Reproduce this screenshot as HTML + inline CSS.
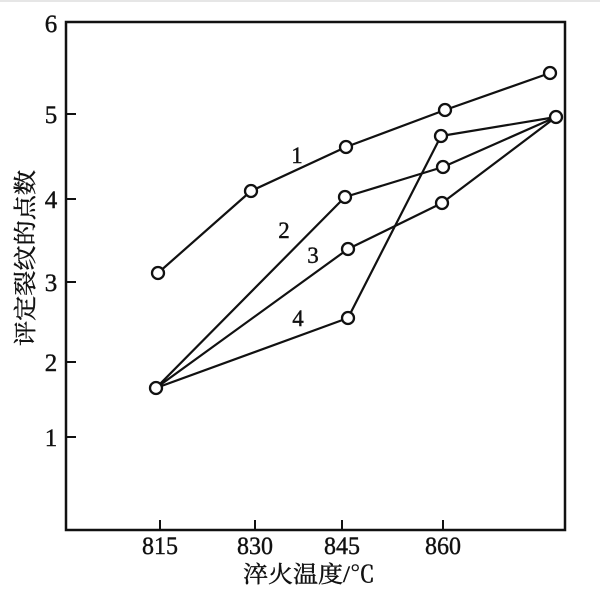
<!DOCTYPE html>
<html><head><meta charset="utf-8"><style>
html,body{margin:0;padding:0;background:#fff;}
svg{display:block;}
text{font-family:"Liberation Serif","Noto Serif CJK SC",serif;fill:#111;stroke:#111;stroke-width:0.4;}
</style></head><body>
<svg width="600" height="596" viewBox="0 0 600 596" xmlns="http://www.w3.org/2000/svg">
<rect x="0" y="0" width="600" height="596" fill="#fff"/>
<rect x="0" y="0" width="600" height="2" fill="#e6e6e6"/>
<!-- axes frame -->
<g stroke="#111" fill="none">
<path d="M66,22 L565,22 L565,530 L66,530 Z" stroke-width="2.5"/>
<path d="M66,114 H76 M66,199 H76 M66,282 H76 M66,362 H76 M66,437 H76" stroke-width="2"/>
<path d="M160,530 V520 M255,530 V520 M342,530 V520 M443,530 V520" stroke-width="2"/>
</g>
<!-- y labels -->
<g font-size="25" text-anchor="middle">
<text x="51" y="32">6</text>
<text x="51" y="123">5</text>
<text x="51" y="208">4</text>
<text x="51" y="291">3</text>
<text x="51" y="371">2</text>
<text x="51" y="446">1</text>
</g>
<!-- x labels -->
<g font-size="25" text-anchor="middle">
<text x="160" y="554" textLength="36" lengthAdjust="spacingAndGlyphs">815</text>
<text x="255" y="554" textLength="36" lengthAdjust="spacingAndGlyphs">830</text>
<text x="342" y="554" textLength="36" lengthAdjust="spacingAndGlyphs">845</text>
<text x="443" y="554" textLength="36" lengthAdjust="spacingAndGlyphs">860</text>
</g>
<text x="243" y="582" font-size="23" textLength="132" lengthAdjust="spacingAndGlyphs">淬火温度/℃</text>
<text transform="translate(33,258) rotate(-90)" font-size="23" text-anchor="middle" textLength="176" lengthAdjust="spacingAndGlyphs">评定裂纹的点数</text>
<!-- series -->
<g stroke="#111" stroke-width="2.2" fill="none" stroke-linejoin="round">
<polyline points="158,273 251,191 346,147 445,110 550,73"/>
<polyline points="156,388 345,197 443,167 556,117"/>
<polyline points="156,388 348,249 442,203 556,117"/>
<polyline points="156,388 348,318 441,136 556,117"/>
</g>
<g stroke="#111" stroke-width="2.3" fill="#fff">
<circle cx="158" cy="273" r="6"/>
<circle cx="251" cy="191" r="6"/>
<circle cx="346" cy="147" r="6"/>
<circle cx="445" cy="110" r="6"/>
<circle cx="550" cy="73" r="6"/>
<circle cx="156" cy="388" r="6"/>
<circle cx="345" cy="197" r="6"/>
<circle cx="443" cy="167" r="6"/>
<circle cx="556" cy="117" r="6"/>
<circle cx="348" cy="249" r="6"/>
<circle cx="442" cy="203" r="6"/>
<circle cx="348" cy="318" r="6"/>
<circle cx="441" cy="136" r="6"/>
</g>
<g font-size="23" text-anchor="middle">
<text x="297" y="163">1</text>
<text x="284" y="238">2</text>
<text x="313" y="263">3</text>
<text x="298" y="326">4</text>
</g>
</svg>
</body></html>
